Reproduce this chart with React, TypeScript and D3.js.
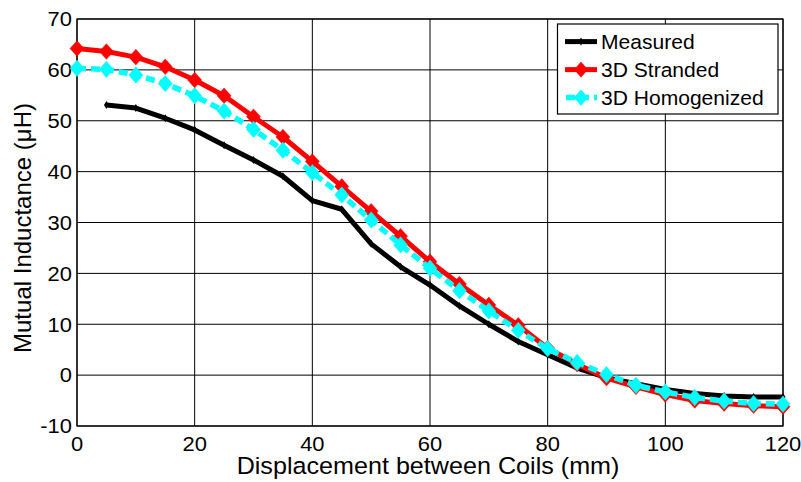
import React from "react";
import * as d3 from "d3";

// Displacement (mm) sample points
const xSim: number[] = [0, 5, 10, 15, 20, 25, 30, 35, 40, 45, 50, 55, 60, 65, 70, 75, 80, 85, 90, 95, 100, 105, 110, 115, 120];
const xMeas: number[] = [5, 10, 15, 20, 25, 30, 35, 40, 45, 50, 55, 60, 65, 70, 75, 80, 85, 90, 95, 100, 105, 110, 115, 120];

// Mutual inductance (µH)
const measured: number[] = [53.1, 52.5, 50.5, 48.2, 45.2, 42.3, 39.1, 34.3, 32.6, 25.8, 21.3, 17.7, 13.6, 10.0, 6.6, 4.0, 1.4, -0.5, -1.7, -2.8, -3.6, -4.1, -4.3, -4.3];
const stranded3D: number[] = [64.2, 63.6, 62.5, 60.6, 58.0, 54.9, 50.8, 46.8, 42.0, 37.1, 32.2, 27.3, 22.3, 17.9, 13.8, 9.8, 5.3, 2.2, -0.6, -2.3, -3.8, -5.0, -5.6, -6.0, -6.2];
const homogenized3D: number[] = [60.3, 60.1, 59.0, 57.3, 54.9, 51.9, 48.3, 44.2, 39.8, 35.4, 30.5, 25.6, 21.0, 16.6, 12.6, 8.8, 5.2, 2.5, 0.1, -2.0, -3.3, -4.4, -5.1, -5.6, -5.7];

const xTicks: number[] = [0, 20, 40, 60, 80, 100, 120];
const yTicks: number[] = [-10, 0, 10, 20, 30, 40, 50, 60, 70];
const seriesNames: string[] = ["Measured", "3D Stranded", "3D Homogenized"];

const W = 801;
const H = 482;
const left = 77, right = 783, top = 19, bottom = 426;
const FONT = "Arial, 'Liberation Sans', sans-serif";
const SX = 1.07;

const x = d3.scaleLinear().domain([0, 120]).range([left, right]);
const y = d3.scaleLinear().domain([-10, 70]).range([bottom, top]);

const diamond = (cx: number, cy: number, hw: number, hh: number) =>
  `M${cx},${cy - hh}L${cx + hw},${cy}L${cx},${cy + hh}L${cx - hw},${cy}Z`;

export default function App() {
  const line = d3
    .line<[number, number]>()
    .x((d) => x(d[0]))
    .y((d) => y(d[1]));

  const measPts: [number, number][] = xMeas.map((v, i) => [v, measured[i]]);
  const strPts: [number, number][] = xSim.map((v, i) => [v, stranded3D[i]]);
  const homPts: [number, number][] = xSim.map((v, i) => [v, homogenized3D[i]]);

  const legendY = [41.6, 69.6, 97.6];

  return (
    <svg
      width={W}
      height={H}
      viewBox={`0 0 ${W} ${H}`}
      style={{ position: "absolute", left: 0, top: 0, background: "#fff" }}
    >
      <rect x={0} y={0} width={W} height={H} fill="#fff" />
      {/* grid */}
      <g stroke="#000" strokeWidth={1}>
        {xTicks.map((t) => (
          <line key={"gx" + t} x1={x(t)} x2={x(t)} y1={top} y2={bottom} />
        ))}
        {yTicks.map((t) => (
          <line key={"gy" + t} x1={left} x2={right} y1={y(t)} y2={y(t)} />
        ))}
      </g>
      <rect x={left} y={top} width={right - left} height={bottom - top} fill="none" stroke="#000" strokeWidth={1.2} />

      {/* tick labels */}
      <g fontFamily={FONT} fontSize={20.5} fill="#000">
        {xTicks.map((t) => (
          <text key={"tx" + t} transform={`translate(${x(t)},${451}) scale(${SX},1)`} textAnchor="middle">
            {t}
          </text>
        ))}
        {yTicks.map((t) => (
          <text key={"ty" + t} transform={`translate(${72},${y(t) + 7.3}) scale(${SX},1)`} textAnchor="end">
            {t}
          </text>
        ))}
      </g>

      {/* axis titles */}
      <text
        fontFamily={FONT}
        fontSize={23.5}
        textAnchor="middle"
        transform={`translate(${(left + right) / 2 - 2},${474}) scale(${SX},1)`}
      >
        Displacement between Coils (mm)
      </text>
      <text
        fontFamily={FONT}
        fontSize={24}
        textAnchor="middle"
        transform={`translate(${31},${228}) rotate(-90)`}
      >
        Mutual Inductance (μH)
      </text>

      {/* series */}
      <path d={line(measPts) || ""} fill="none" stroke="#000" strokeWidth={5} strokeLinejoin="round" />
      {measPts.map((p, i) => (
        <path key={"mm" + i} d={diamond(x(p[0]), y(p[1]), 2.5, 4)} fill="#000" />
      ))}

      <path d={line(strPts) || ""} fill="none" stroke="#ff0000" strokeWidth={5} strokeLinejoin="round" />
      {strPts.map((p, i) => (
        <path key={"sm" + i} d={diamond(x(p[0]), y(p[1]), 7, 7.8)} fill="#ff0000" stroke="#ff0000" strokeWidth={0.5} />
      ))}

      <path
        d={line(homPts) || ""}
        fill="none"
        stroke="#00ffff"
        strokeWidth={5.5}
        strokeDasharray="9,5"
        strokeLinejoin="round"
      />
      {homPts.map((p, i) => (
        <path key={"hm" + i} d={diamond(x(p[0]), y(p[1]), 7, 8.2)} fill="#00ffff" stroke="#00ffff" strokeWidth={0.5} />
      ))}

      {/* legend */}
      <rect x={557.5} y={24} width={220.5} height={90} fill="#fff" stroke="#000" strokeWidth={1.2} />
      <line x1={565} x2={597} y1={legendY[0]} y2={legendY[0]} stroke="#000" strokeWidth={5} />
      <path d={diamond(581, legendY[0], 2.5, 4)} fill="#000" />
      <line x1={565} x2={597} y1={legendY[1]} y2={legendY[1]} stroke="#ff0000" strokeWidth={5} />
      <path d={diamond(581, legendY[1], 7, 7.8)} fill="#ff0000" />
      <line x1={565} x2={597} y1={legendY[2]} y2={legendY[2]} stroke="#00ffff" strokeWidth={5.5} strokeDasharray="9,5" strokeDashoffset={-1} />
      <path d={diamond(581, legendY[2], 7, 8.2)} fill="#00ffff" />
      <g fontFamily={FONT} fontSize={19.5} fill="#000">
        {seriesNames.map((n, i) => (
          <text key={n} transform={`translate(${601},${legendY[i] + 7}) scale(1.08,1)`}>
            {n}
          </text>
        ))}
      </g>
    </svg>
  );
}
